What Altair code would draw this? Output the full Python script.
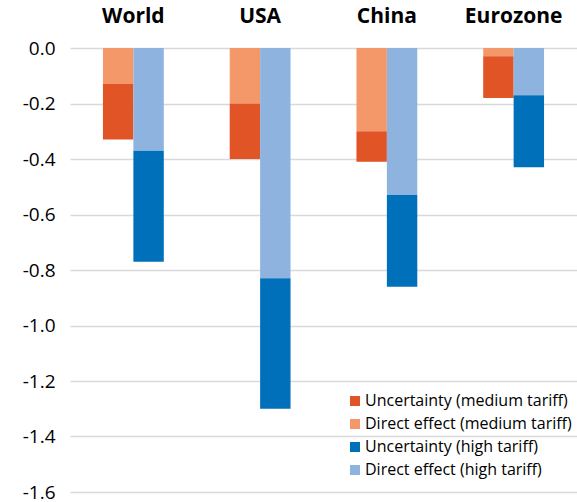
import altair as alt
import pandas as pd

# Growth impact by region, split into direct effect and uncertainty
regions = ["World", "USA", "China", "Eurozone"]
direct_medium = [-0.13, -0.20, -0.30, -0.03]
uncert_medium = [-0.20, -0.20, -0.11, -0.15]
direct_high = [-0.37, -0.83, -0.53, -0.17]
uncert_high = [-0.40, -0.47, -0.33, -0.26]

series = [
    "Uncertainty (medium tariff)",
    "Direct effect (medium tariff)",
    "Uncertainty (high tariff)",
    "Direct effect (high tariff)",
]
colors = ["#E15426", "#F4986A", "#0070BB", "#8EB3DF"]
y_ticks = [0.0, -0.2, -0.4, -0.6, -0.8, -1.0, -1.2, -1.4, -1.6]

rows = []
for i, r in enumerate(regions):
    rows.append(dict(region=r, tariff="medium", series=series[1], stack=0, value=direct_medium[i]))
    rows.append(dict(region=r, tariff="medium", series=series[0], stack=1, value=uncert_medium[i]))
    rows.append(dict(region=r, tariff="high", series=series[3], stack=0, value=direct_high[i]))
    rows.append(dict(region=r, tariff="high", series=series[2], stack=1, value=uncert_high[i]))
df = pd.DataFrame(rows)

font = "Open Sans"

chart = (
    alt.Chart(df)
    .mark_bar(stroke=None)
    .encode(
        x=alt.X(
            "region:N",
            sort=regions,
            scale=alt.Scale(paddingInner=0.52, paddingOuter=0.26),
            axis=alt.Axis(
                orient="top",
                title=None,
                ticks=False,
                domain=False,
                labelAngle=0,
                labelFontWeight="bold",
                labelFontSize=21,
                labelFont=font,
                labelColor="#000000",
                labelPadding=22,
            ),
        ),
        xOffset=alt.XOffset("tariff:N", sort=["medium", "high"], scale=alt.Scale(paddingInner=0, paddingOuter=0)),
        y=alt.Y(
            "value:Q",
            stack="zero",
            scale=alt.Scale(domain=[-1.6, 0], nice=False),
            axis=alt.Axis(
                title=None,
                values=y_ticks,
                labelExpr="replace(format(datum.value, '.1f'), '\u2212', '-')",
                ticks=False,
                domain=False,
                labelFontSize=19,
                labelFont=font,
                labelColor="#000000",
                labelPadding=15,
                gridColor="#D9D9D9",
                gridWidth=1.5,
            ),
        ),
        color=alt.Color(
            "series:N",
            scale=alt.Scale(domain=series, range=colors),
            legend=alt.Legend(
                title=None,
                orient="none",
                legendX=277,
                legendY=345,
                symbolType="square",
                symbolSize=100,
                symbolStrokeWidth=0,
                labelFont=font,
                labelFontSize=16,
                labelColor="#000000",
                labelLimit=0,
                rowPadding=7,
                labelOffset=2,
            ),
        ),
        order=alt.Order("stack:Q"),
    )
    .properties(
        width=507,
        height=444,
        autosize=alt.AutoSizeParams(type="none"),
        padding={"left": 70, "top": 48, "right": 0, "bottom": 10},
    )
    .configure_view(stroke=None)
)

chart.save("out.html", embed_options={"renderer": "svg", "actions": False})
